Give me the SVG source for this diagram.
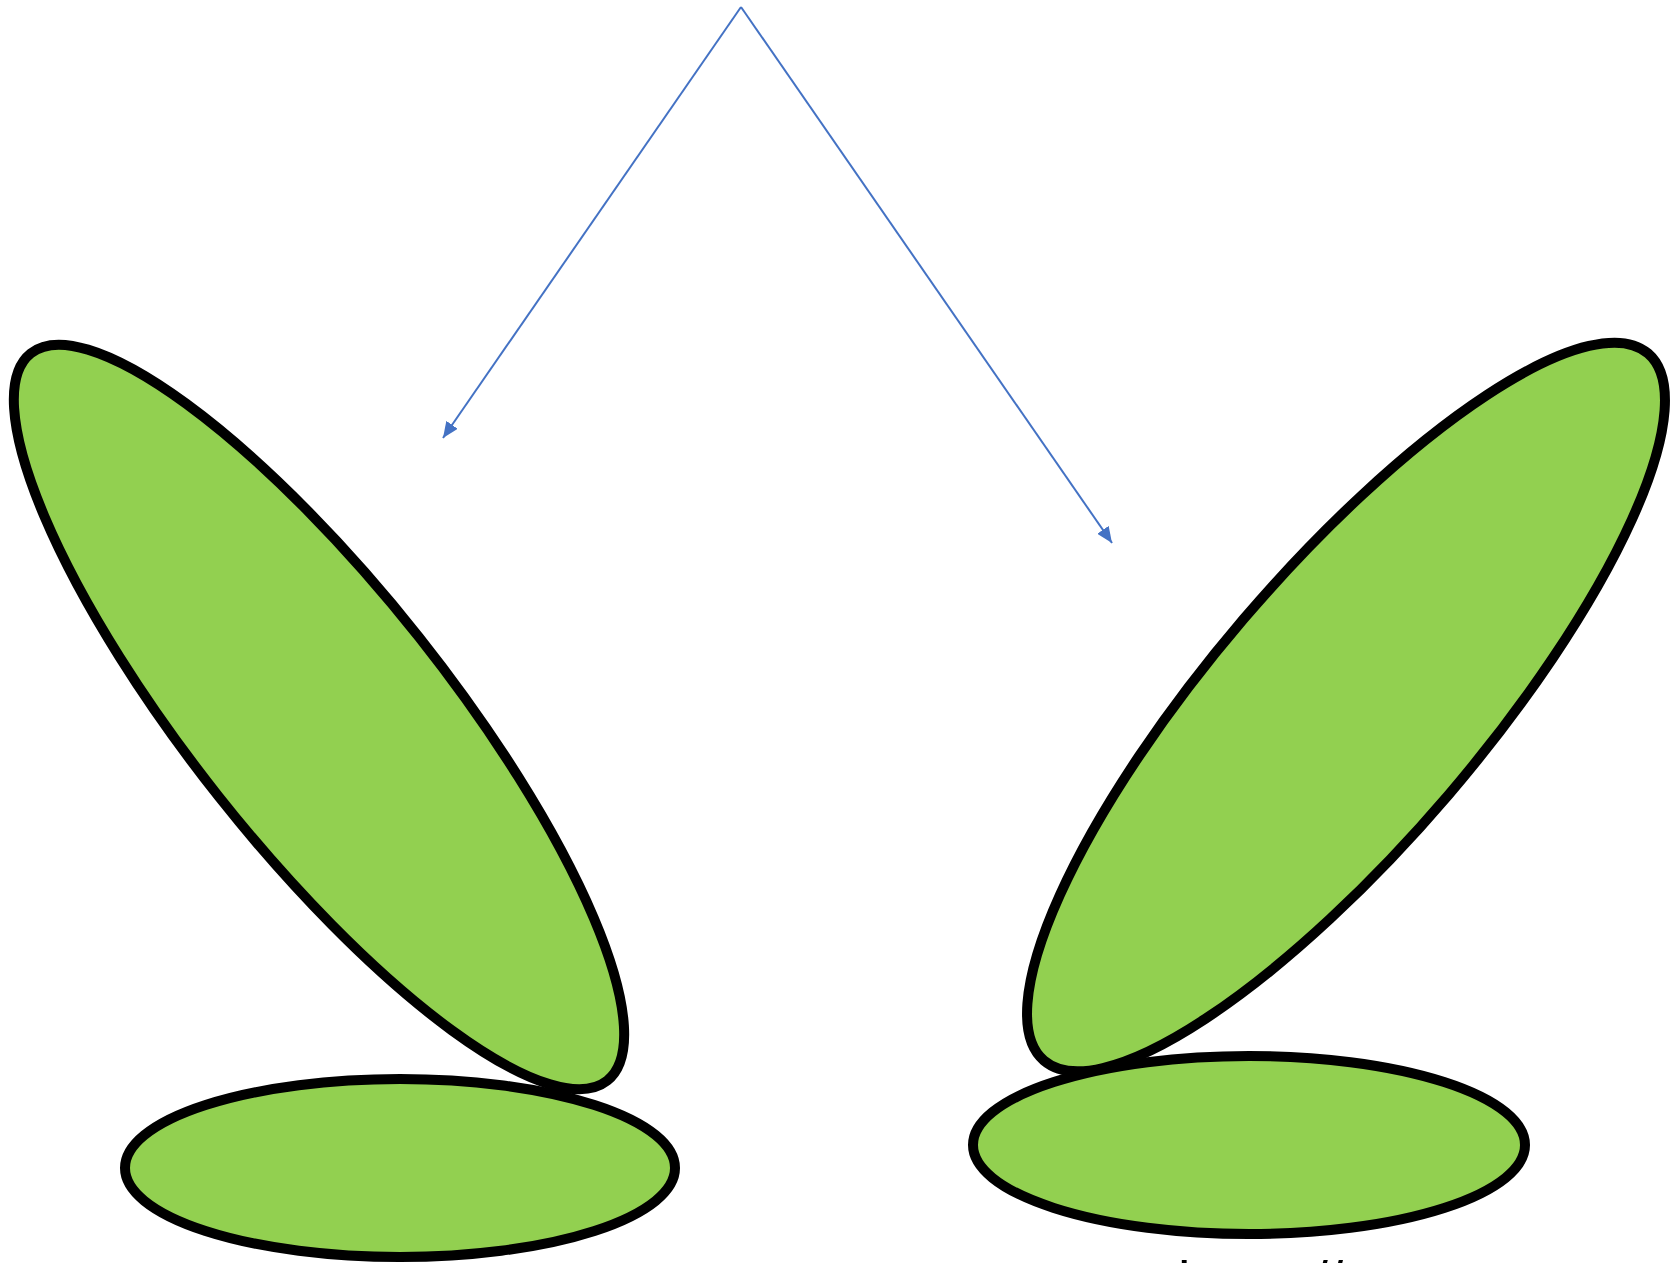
<svg xmlns="http://www.w3.org/2000/svg" width="1678" height="1263" viewBox="0 0 1678 1263">
<style>
.leaf{fill:#92D050;stroke:#000;stroke-width:10}
.conn{stroke:#4472C4;stroke-width:2;fill:none}
.cut{font-family:"Liberation Sans",Arial,sans-serif;font-size:55px;fill:#000}
</style>
<defs>
<marker id="arr" markerUnits="userSpaceOnUse" markerWidth="18" markerHeight="14" refX="16" refY="7" orient="auto">
<path d="M0,0 L16,7 L0,14 Z" fill="#4472C4"/>
</marker>
</defs>
<rect width="1678" height="1263" fill="#fff"/>
<g id="base-left">
<ellipse class="leaf" cx="400" cy="1168" rx="275" ry="89"/>
</g>
<g id="base-right">
<ellipse class="leaf" cx="1249" cy="1145" rx="276" ry="89"/>
</g>
<g id="leaf-left">
<ellipse class="leaf" cx="319" cy="717" rx="464" ry="128" transform="rotate(51.6 319 717)"/>
</g>
<g id="leaf-right">
<ellipse class="leaf" cx="1346" cy="707" rx="465" ry="135" transform="rotate(-49.5 1346 707)"/>
</g>
<g id="connectors">
<line class="conn" x1="741" y1="7" x2="443" y2="438" marker-end="url(#arr)"/>
<line class="conn" x1="741" y1="7" x2="1112" y2="543" marker-end="url(#arr)"/>
</g>
<text class="cut" x="1178" y="1300">https://</text>
</svg>
